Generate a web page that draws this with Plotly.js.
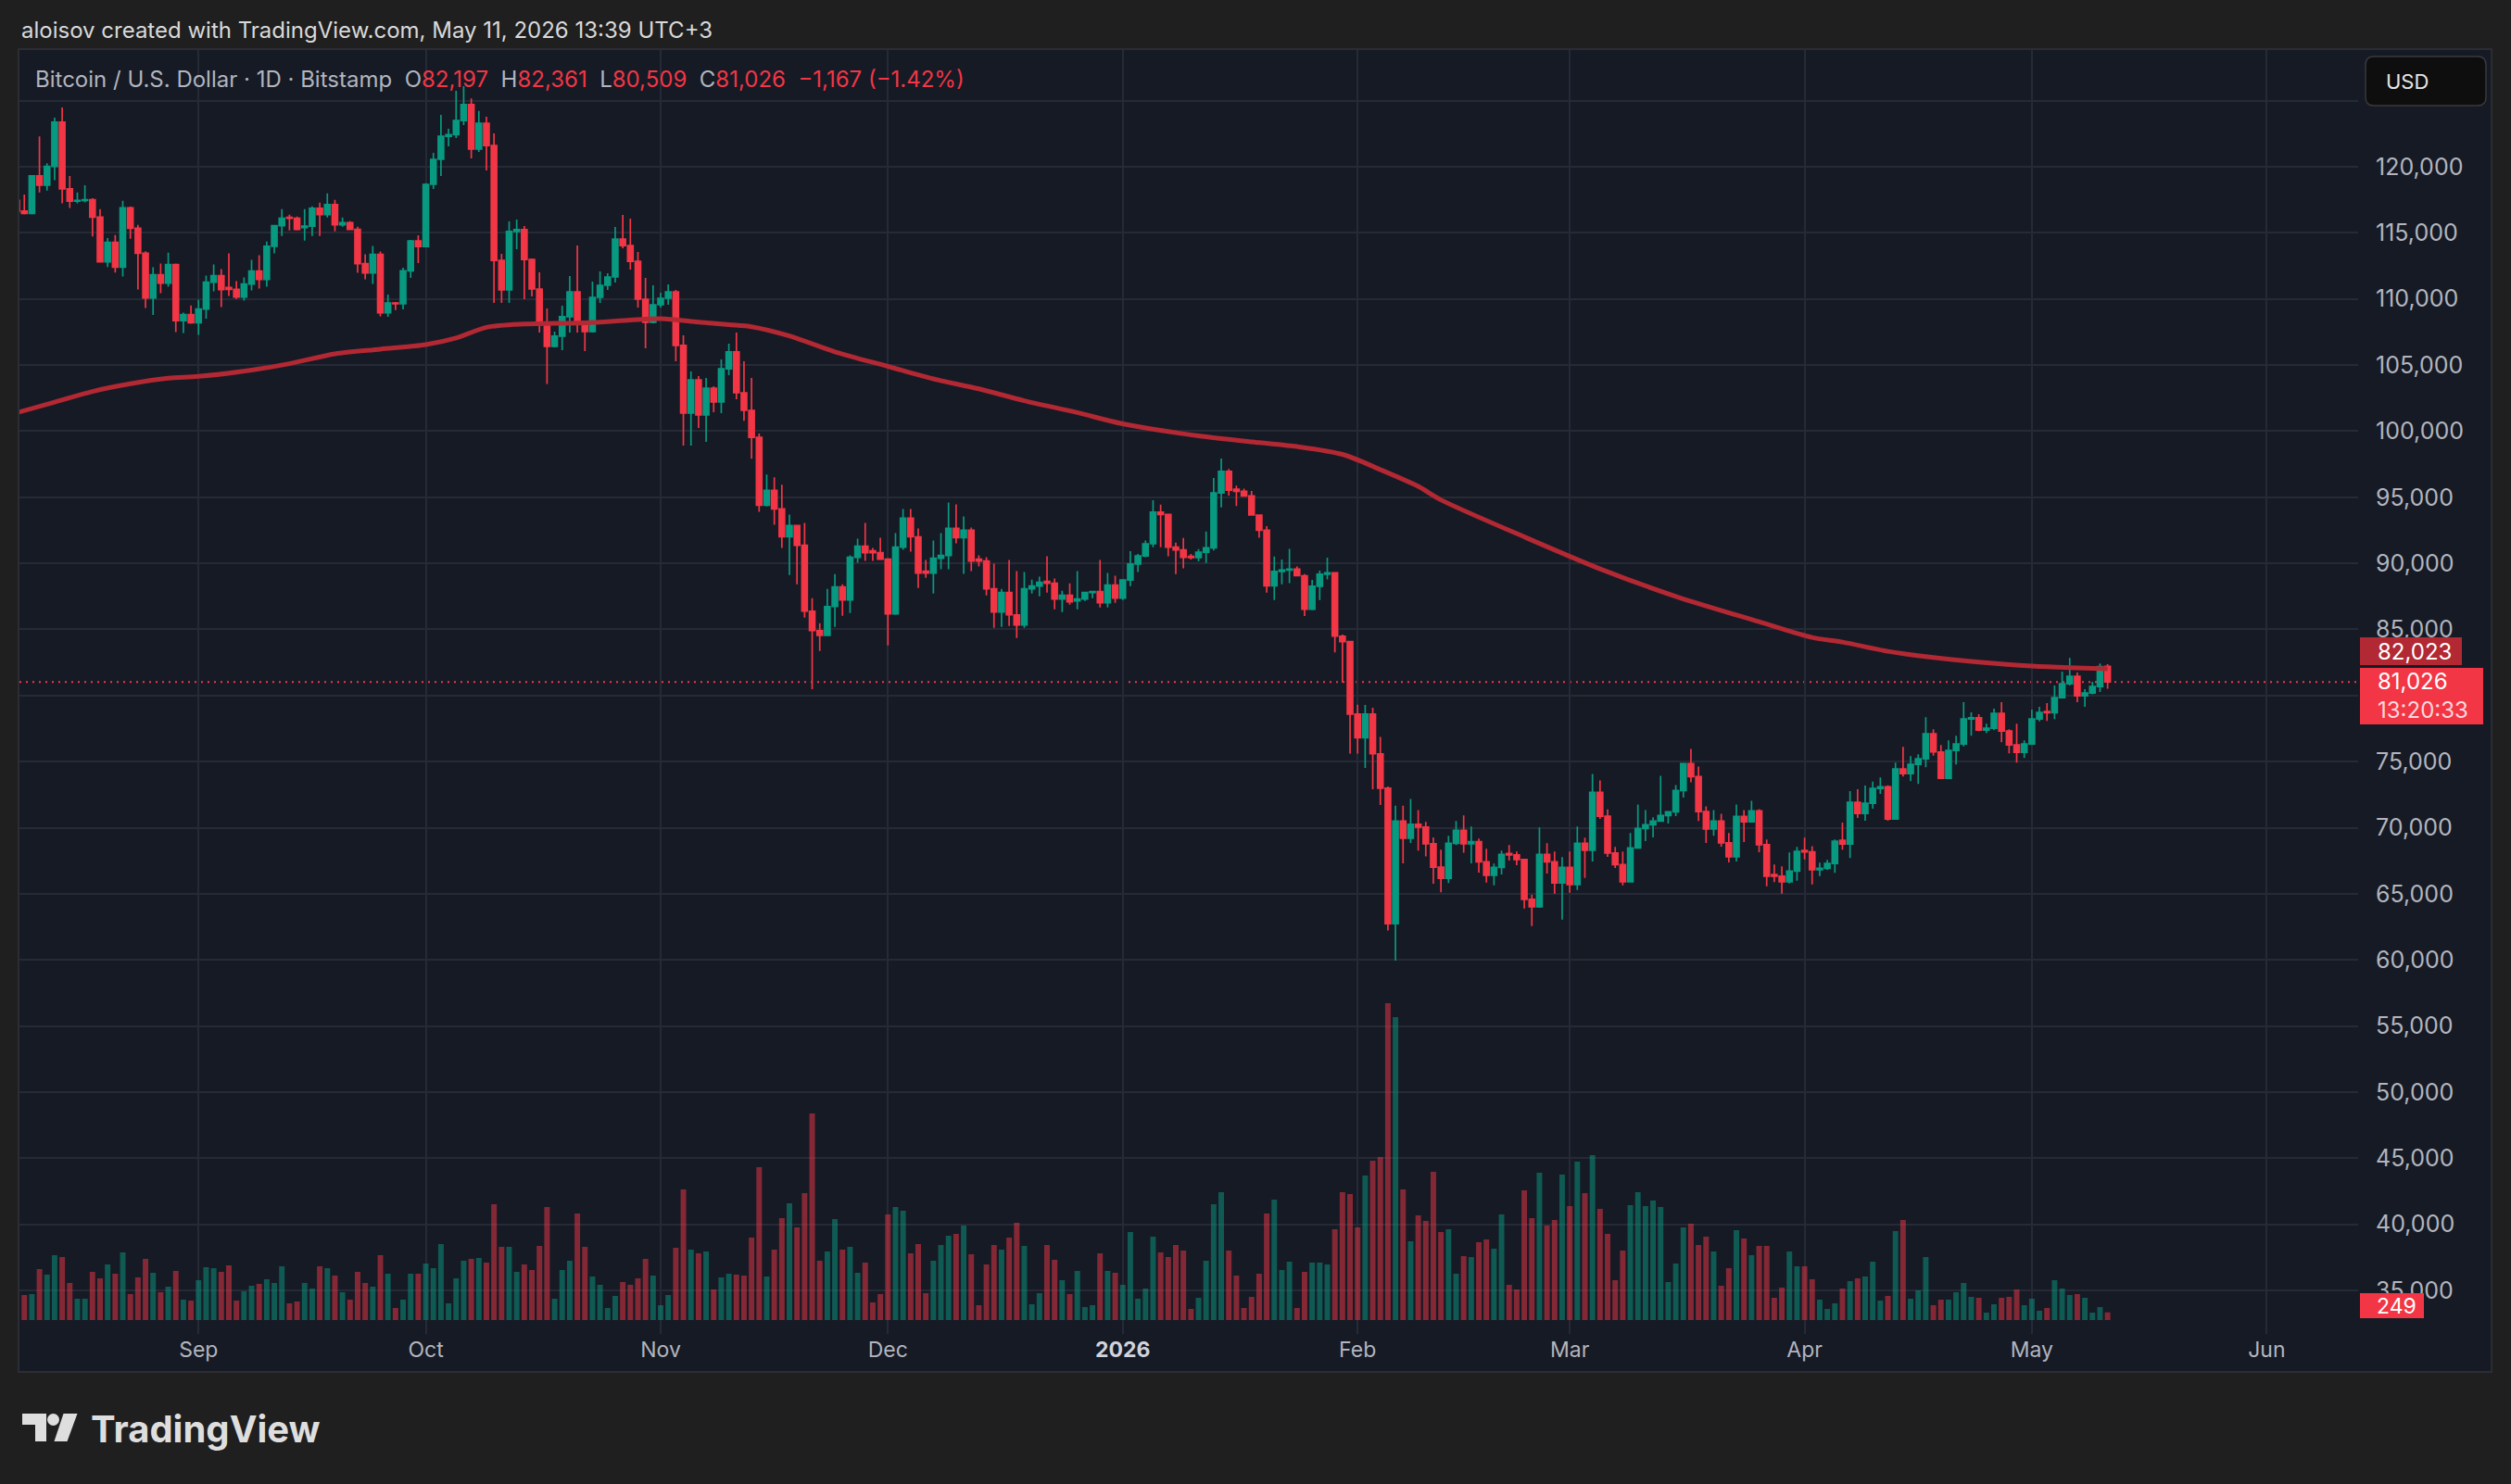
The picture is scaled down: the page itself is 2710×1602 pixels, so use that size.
<!DOCTYPE html>
<html><head><meta charset="utf-8">
<script src="https://cdn.plot.ly/plotly-3.0.1.min.js"></script>
<style>html,body{margin:0;padding:0;background:#1f1f1f;}#chart{width:2710px;height:1602px;}</style>
</head><body><div id="chart"></div>
<script>
// ---------------- DATA ----------------
const firstDay = '2025-08-08';   // one candle per day from here

const openPrices = [
 117450,116650,116470,119310,118600,120030,123370,118330,117400,117450,117500,116190,112810,114280,112410,116890,115350,113460,110080,111830,111200,112600,108360,108820,
 108200,109240,111270,111760,110860,110720,110150,111130,112110,111480,113980,115540,116170,116100,115400,115500,116860,116380,117140,115610,115770,115260,112670,111970,113370,108960,109700,109630,112130,114390,
 113970,118670,120560,122310,122430,123500,124700,121330,123290,121610,112920,110680,115100,115240,112990,110750,108090,106410,107180,108650,110540,108300,107530,110120,111030,111660,114530,114040,112850,109980,108230,
 109560,110050,110540,106480,101360,103880,101220,103250,102200,104720,105990,102900,101570,99530,94400,95520,94115,92005,92850,91370,86380,84910,84555,86730,88210,87226,90460,91300,90950,90810,
 90320,86170,91230,93410,92005,89405,89265,90390,90600,92640,91935,92500,90320,90180,88070,86310,87790,86100,85330,88070,88280,88630,88490,87295,87575,87150,87300,87790,87860,87015,88350,
 87365,88740,89950,90560,91480,93880,93700,91220,91020,90530,90430,90840,91170,95330,96960,95600,95450,95100,93650,92500,88290,89390,89490,89570,89060,86530,88270,89180,89290,84490,84080,
 78600,76810,78600,75590,72990,62730,70510,69210,70260,70050,68780,67010,66170,68820,69800,68780,68940,67420,66400,67000,68050,67940,67590,64580,64020,67980,67420,65820,
 67000,65700,68820,68290,72670,70870,68080,67210,65910,68470,69940,70220,70500,70920,71200,72810,74840,73860,71220,69900,70500,68850,67800,70850,70450,71270,68710,66450,66330,65910,66720,
 68270,68170,66820,66920,67290,69040,68760,71920,71080,71850,72970,73100,70660,74440,74090,74790,75210,77100,75730,73740,75840,76330,78220,78310,77380,77520,78650,77310,76260,75700,
 76330,78220,78780,78700,79840,80890,81450,79980,80190,80680,82197
];
const highPrices = [
 117800,117900,119350,122300,120270,123720,124490,119300,118050,118600,117620,116800,114600,114840,117420,116980,115600,113600,112390,112670,113500,112670,108960,109500,
 109940,111760,112600,112250,113440,111340,111620,112950,113300,114350,115600,116800,116380,116240,116800,117000,117280,117980,117490,116170,115890,115470,113370,114000,113580,110330,109770,112360,114460,114820,
 118750,121050,123930,122870,125750,126100,125160,124230,123780,122520,113410,115870,116000,115520,113060,112010,109280,107530,109490,111730,114040,108350,111310,112080,111940,115450,116360,116080,113550,111590,111030,
 110470,111100,110680,107250,104510,104160,104020,103400,105420,106620,107460,105290,104030,99810,96715,96500,95940,93690,92920,93060,87370,85470,88070,89190,88420,90600,91865,93060,91160,91935,
 90390,92290,94115,94115,92640,90250,91725,92290,94605,94465,93550,92710,90600,90460,89970,88070,90250,89405,89335,88770,88985,90530,88845,87930,88490,89405,87860,87930,90250,89265,89055,
 88770,90920,90710,91730,94770,94440,93750,91560,91910,90710,91070,92400,96450,97930,97140,95870,95640,95480,93700,92810,90510,90280,91100,89770,89180,88750,89440,90430,89340,84620,84100,
 79310,79280,79080,76860,73110,71660,71660,72170,71330,70430,69270,68330,69380,70500,70920,70080,69170,68400,67280,68260,68680,68190,67650,64930,70010,68820,68190,67770,
 68190,70080,69240,74070,73580,71390,68540,68190,69590,71760,71340,70780,73930,71270,73230,74910,75960,74630,71620,71340,71060,69590,71760,71340,72040,71410,69100,67210,67070,68120,68540,
 69250,68600,67360,67570,69110,70380,72760,72900,73180,73480,73800,73200,74930,76120,75420,75560,78365,77450,76260,76610,76960,79490,78720,78580,77870,79000,79490,77450,77870,76610,
 78930,79140,79420,80750,81800,82850,81730,80470,81030,82430,82361
];
const lowPrices = [
 116500,116400,116400,118050,118200,118990,117240,116890,117240,117300,114720,112740,112410,111990,111690,114560,110710,109310,108780,110430,110920,107490,107420,108120,
 107280,108500,110570,109380,110220,110000,109870,110640,110780,110920,113440,114770,115190,115190,114420,114770,114770,116170,115120,115470,115200,111970,111480,111130,108680,108650,109160,109210,111590,112710,
 113900,118320,119300,121540,122170,123150,120630,121120,119720,109700,109700,109700,113760,109980,110190,107460,103560,106340,106130,107460,107460,106060,107460,109700,110680,111240,113830,112220,109350,106270,108150,
 109350,109560,105280,98910,98910,100240,99190,101430,101360,104230,102410,100790,97910,93900,94300,92920,91160,89120,88420,85890,80480,83360,84500,85190,86030,86240,90040,90180,90180,90250,
 83780,86100,91020,90880,88140,88910,87720,89545,89545,91510,89195,89405,89755,87580,85120,85190,85260,84345,85120,87720,87505,87790,86525,86310,86875,86523,87150,87366,86665,86665,87015,
 87225,88270,89340,90460,91220,91220,90540,89180,89620,90280,90150,90030,90970,94230,95130,94340,95050,93600,91940,87780,87220,88420,88500,89000,86020,86450,87220,88780,83270,80990,75610,
 75610,74520,72910,71710,62220,59950,67300,68850,68270,67830,65760,65120,65820,68680,68100,67300,66610,65840,65630,66470,67520,67170,63880,62550,63930,66540,65000,63040,
 65070,65280,66190,67450,70660,67800,66960,65630,65840,68430,68990,69270,70450,70310,70870,72270,73440,70500,68850,69380,68570,67380,67450,68920,70380,68150,65560,65890,65000,65770,65980,
 67600,65700,66330,66800,66590,68340,67710,70730,70520,71430,72550,70520,70590,73880,73530,73320,74580,75440,73700,73700,74790,76150,76960,77310,77170,77380,76470,75630,74930,75280,
 76260,78040,78080,78220,79770,80750,79490,79140,80100,80260,80509
];
const closePrices = [
 116650,116470,119310,118600,120030,123370,118330,117400,117450,117500,116190,112810,114280,112410,116890,115350,113460,110080,111830,111200,112600,108360,108820,108200,
 109240,111270,111760,110710,110720,110150,111130,112110,111480,113980,115540,116100,116100,115260,115500,116860,116380,117140,115610,115770,115260,112670,111970,113370,108960,109700,109630,112130,114390,113970,
 118670,120560,122310,122430,123500,124700,121330,123290,121610,112920,110680,115100,115240,112990,110750,108090,106410,107180,108650,110540,108300,107530,110120,111030,111660,114530,114040,112850,109980,108230,109560,
 110050,110540,106480,101360,103880,101220,103250,102200,104720,105990,102900,101570,99530,94400,95520,94115,92005,92850,91370,86380,84910,84555,86730,88210,87226,90460,91300,90810,90810,90320,
 86170,91230,93410,92005,89265,89265,90390,90600,92640,91935,92500,90180,90180,88070,86310,87790,86100,85330,88070,88280,88560,88490,87295,87575,87085,87296,87790,87860,87015,88350,87365,
 88740,89950,90560,91480,93880,93700,91220,91020,90460,90430,90840,91170,95330,96960,95540,95450,95100,93650,92500,88290,89390,89490,89570,89060,86530,88270,89180,89290,84490,84080,78600,
 76810,78600,75590,72990,62730,70510,69210,70260,70050,68780,67010,66170,68820,69800,68780,68940,67420,66400,67000,67980,67940,67590,64580,64020,67980,67420,65820,67000,
 65700,68820,68290,72670,70870,68080,67210,65910,68470,69940,70220,70500,70920,71200,72810,74840,73860,71220,69900,70500,68850,67800,70850,70450,71270,68710,66330,66330,65910,66720,68200,
 68170,66820,66920,67290,68970,68760,71920,71080,71850,72970,73100,70660,74440,74090,74790,75210,77100,75730,73740,75840,76330,78220,78310,77380,77520,78650,77310,76260,75700,76330,
 78220,78720,78700,79840,80890,81450,79980,80190,80680,82193,81026
];
const volumes = [
 1290,810,840,1650,1470,2100,2040,1200,690,690,1560,1350,1800,1500,2190,840,1380,1980,1530,900,1080,1590,660,630,
 1290,1710,1680,1560,1770,630,930,1110,1170,1320,1200,1740,540,600,1200,1020,1740,1680,1440,900,660,1560,1200,1080,2100,1500,390,660,1500,1500,
 1830,1680,2460,540,1350,1920,1980,2010,1860,3750,2370,2370,1560,1800,1620,2400,3660,690,1620,1920,3450,2370,1410,1140,390,780,1230,1140,1350,1980,1440,
 480,810,2340,4230,2280,2160,2220,990,1380,1500,1470,1440,2670,4950,1410,2280,3300,3780,3000,4110,6690,1920,2220,3270,2280,2370,1530,1860,570,840,
 3420,3660,3540,2160,2460,870,1920,2430,2730,2790,3060,2130,480,1800,2430,2280,2670,3150,2400,510,870,2430,1950,1290,840,1590,420,480,2160,1590,1530,
 1140,2850,690,1020,2700,2190,2040,2430,2250,360,720,1920,3750,4140,2250,1440,390,750,1500,3450,3900,1620,1890,390,1560,1860,1860,1800,2940,4140,4080,
 3000,4680,5160,5280,10260,9810,4230,2550,3390,3210,4800,2850,2940,1500,2070,2040,2520,2610,2310,3420,1140,990,4200,3300,4770,3060,3240,4710,
 3690,5130,4110,5340,3600,2790,1290,2250,3720,4140,3690,3870,3660,1230,1830,3000,3120,2430,2700,2220,1110,1680,2910,2640,2100,2400,2400,720,1050,2220,1740,
 1740,1320,660,360,540,1020,1260,1350,1410,1890,630,780,2880,3240,690,960,2040,480,660,660,900,1200,750,720,240,510,720,750,990,480,
 690,300,390,1290,1020,810,840,720,240,420,249
];
// 200-day moving average, read at points along the drawn line
const maDates = ['2025-08-08','2025-08-13','2025-08-18','2025-08-23','2025-08-28','2025-09-01','2025-09-08','2025-09-13','2025-09-19','2025-09-25',
 '2025-10-01','2025-10-05','2025-10-09','2025-10-14','2025-10-22','2025-10-28','2025-11-01','2025-11-06','2025-11-10','2025-11-13','2025-11-18','2025-11-24',
 '2025-12-01','2025-12-07','2025-12-13','2025-12-19','2025-12-26','2026-01-01','2026-01-11','2026-01-19','2026-01-24','2026-01-30','2026-02-04','2026-02-09',
 '2026-02-12','2026-02-23','2026-03-05','2026-03-15','2026-03-26','2026-04-02','2026-04-06','2026-04-12','2026-04-18','2026-04-24','2026-05-01','2026-05-06','2026-05-11'];
const maValues = [101390,102190,103000,103580,104000,104140,104620,105100,105850,106200,
 106550,107050,107850,108100,108200,108400,108500,108250,108050,107900,107200,106000,
 104900,103950,103200,102300,101400,100550,99640,99130,98830,98240,97090,95820,
 94800,92000,89580,87500,85580,84390,84040,83340,82870,82520,82220,82100,82023];

const monthTicks  = ['2025-09-01','2025-10-01','2025-11-01','2025-12-01','2026-01-01','2026-02-01','2026-03-01','2026-04-01','2026-05-01','2026-06-01'];
const monthLabels = ['Sep','Oct','Nov','Dec','2026','Feb','Mar','Apr','May','Jun'];
const priceTicks  = [35000,40000,45000,50000,55000,60000,65000,70000,75000,80000,85000,90000,95000,100000,105000,110000,115000,120000,125000];
// labels the reference hides behind its USD button and the last-price tag
const hiddenPriceTicks = [80000,125000];

const titleText = 'aloisov created with TradingView.com, May 11, 2026 13:39 UTC+3';
const symbolText = 'Bitcoin / U.S. Dollar · 1D · Bitstamp';
const countdownText = '13:20:33';
const currencyText = 'USD';
const brandText = 'TradingView';

// ---------------- BUILD ----------------
const days = openPrices.map((_, i) => {
  const p = firstDay.split('-').map(Number);
  return new Date(Date.UTC(p[0], p[1]-1, p[2]+i)).toISOString().slice(0,10);
});
const n = closePrices.length;
const fmt = v => Math.round(v).toLocaleString('en-US');
const MINUS = '\u2212';
const UP = '#089981', DOWN = '#f23645';
const volColors = closePrices.map((c,i) => c >= openPrices[i] ? 'rgba(8,153,129,0.5)' : 'rgba(242,54,69,0.5)');

// pixel helpers (page is 2710 x 1602)
const PL=21, PR=2545, PT=54, PB=1440;
const px = x => (x-PL)/(PR-PL);
const py = y => (PB-y)/(PB-PT);
const rectP = (x0,y0,x1,y1,fill,extra) => Object.assign({type:'rect',xref:'paper',yref:'paper',x0:px(x0),x1:px(x1),y0:py(y1),y1:py(y0),fillcolor:fill,line:{width:0},layer:'above'}, extra||{});
function roundRectPath(x0,y0,x1,y1,r){
  const P=(x,y)=>px(x)+','+py(y);
  return 'M'+P(x0+r,y0)+' L'+P(x1-r,y0)+' Q'+P(x1,y0)+' '+P(x1,y0+r)+' L'+P(x1,y1-r)+' Q'+P(x1,y1)+' '+P(x1-r,y1)+
         ' L'+P(x0+r,y1)+' Q'+P(x0,y1)+' '+P(x0,y1-r)+' L'+P(x0,y0+r)+' Q'+P(x0,y0)+' '+P(x0+r,y0)+' Z';
}
const polyPath = pts => 'M' + pts.map(p => px(p[0])+','+py(p[1])).join(' L') + ' Z';

const lastO = openPrices[n-1], lastH = highPrices[n-1], lastL = lowPrices[n-1], lastC = closePrices[n-1], prevC = closePrices[n-2];
const chg = lastC - prevC, pct = chg / prevC * 100;
const sgn = v => (v < 0 ? MINUS : '+');
const G = s => '<span style="color:#b2b5be">'+s+'</span>';
const Rd = s => '<span style="color:'+(chg<0?DOWN:UP)+'">'+s+'</span>';
const NB = '\u00a0';
const legendText = G(symbolText + NB+NB + 'O') + Rd(fmt(lastO)) + G(NB+NB+'H') + Rd(fmt(lastH)) + G(NB+NB+'L') + Rd(fmt(lastL)) +
  G(NB+NB+'C') + Rd(fmt(lastC)) + Rd(NB+NB + sgn(chg) + fmt(Math.abs(chg)) + ' (' + sgn(chg) + Math.abs(pct).toFixed(2) + '%)');

const traces = [
  {type:'bar', x:days, y:volumes, xaxis:'x', yaxis:'y2', marker:{color:volColors, line:{width:0}}, hoverinfo:'skip', showlegend:false},
  {type:'candlestick', x:days, open:openPrices, high:highPrices, low:lowPrices, close:closePrices, xaxis:'x', yaxis:'y',
   increasing:{line:{color:UP,width:1.7}, fillcolor:UP}, decreasing:{line:{color:DOWN,width:1.7}, fillcolor:DOWN},
   whiskerwidth:0, hoverinfo:'skip', showlegend:false},
  {type:'scatter', mode:'lines', x:maDates, y:maValues, xaxis:'x', yaxis:'y', line:{color:'#b22833', width:5, shape:'spline', smoothing:0.8}, hoverinfo:'skip', showlegend:false}
];

const gridC = '#262a36';
const layout = {
  width:2710, height:1602,
  paper_bgcolor:'#1f1f1f', plot_bgcolor:'#161a25',
  margin:{l:PL, r:2710-PR, t:PT, b:1602-PB, pad:0},
  font:{family:'Inter, Roboto, sans-serif', size:23, color:'#b2b5be'},
  showlegend:false,
  boxgap:0.28, boxgroupgap:0, bargap:0.27,
  xaxis:{type:'date', range:['2025-08-08 08:38','2026-06-13 01:40'], tickmode:'array', tickvals:monthTicks,
         ticktext:monthLabels.map(t => /^\d{4}$/.test(t) ? '<span style="color:#d1d4dc"><b>'+t+'</b></span>' : t),
         showgrid:true, gridcolor:gridC, gridwidth:2, zeroline:false, showline:false, ticks:'', ticklabelstandoff:1,
         tickfont:{size:23, color:'#b2b5be'}, rangeslider:{visible:false}, fixedrange:true},
  yaxis:{range:[31703,128830], side:'right', tickmode:'array', tickvals:priceTicks,
         ticktext:priceTicks.map(v => hiddenPriceTicks.includes(v) ? '' : fmt(v)),
         showgrid:true, gridcolor:gridC, gridwidth:2, zeroline:false, showline:false, ticks:'', ticklabelstandoff:18,
         tickfont:{size:25, color:'#b2b5be'}, fixedrange:true},
  yaxis2:{overlaying:'y', range:[-450,41130], visible:false, showgrid:false, zeroline:false, fixedrange:true},
  shapes:[
    {type:'rect', xref:'paper', yref:'paper', x0:px(20), x1:px(2689), y0:py(1481), y1:py(53), fillcolor:'#161a25', line:{color:'#2c2d33', width:2}, layer:'below'},
    {type:'line', xref:'paper', yref:'y', x0:0, x1:1, y0:lastC, y1:lastC, line:{color:DOWN, width:2, dash:'2px,5px'}, layer:'below'},
    {type:'path', xref:'paper', yref:'paper', path:roundRectPath(2553,61,2683,114,9), fillcolor:'#0e0e0e', line:{color:'#3a3a3e', width:1.5}, layer:'above'},
    rectP(2547,688,2657,718,'#b22833'),
    rectP(2547,721,2680,782,DOWN),
    rectP(2547,1396,2616,1423,DOWN),
    // TradingView logo mark
    rectP(24,1526,50,1538,'#dedede'),
    rectP(38,1526,50,1556,'#dedede'),
    {type:'circle', xref:'paper', yref:'paper', x0:px(51), x1:px(64), y0:py(1539), y1:py(1526), fillcolor:'#dedede', line:{width:0}, layer:'above'},
    {type:'path', xref:'paper', yref:'paper', path:polyPath([[68.5,1526],[83.5,1526],[72.5,1556],[58.5,1556]]), fillcolor:'#dedede', line:{width:0}, layer:'above'}
  ],
  annotations:[
    {xref:'paper', yref:'paper', x:px(21), y:py(32), xanchor:'left', yanchor:'middle', showarrow:false, text:titleText, font:{size:24, color:'#d9d9d9'}},
    {xref:'paper', yref:'paper', x:px(36), y:py(85), xanchor:'left', yanchor:'middle', showarrow:false, text:legendText, font:{size:24}},
    {xref:'paper', yref:'paper', x:px(2573), y:py(88), xanchor:'left', yanchor:'middle', showarrow:false, text:currencyText, font:{size:22, color:'#e6e6e6'}},
    {xref:'paper', yref:'paper', x:px(2564), y:py(703), xanchor:'left', yanchor:'middle', showarrow:false, text:fmt(maValues[maValues.length-1]), font:{size:24, color:'#ffffff'}},
    {xref:'paper', yref:'paper', x:px(2564), y:py(751), xanchor:'left', yanchor:'middle', align:'left', showarrow:false,
     text:fmt(lastC)+'<br><span style="color:#fcd9dc">'+countdownText+'</span>', font:{size:24, color:'#ffffff'}},
    {xref:'paper', yref:'paper', x:px(2563), y:py(1410), xanchor:'left', yanchor:'middle', showarrow:false, text:fmt(volumes[n-1]), font:{size:23, color:'#ffffff'}},
    {xref:'paper', yref:'paper', x:px(96), y:py(1542), xanchor:'left', yanchor:'middle', showarrow:false, text:'<b>'+brandText+'</b>', font:{size:40, color:'#dedede'}}
  ]
};

Plotly.newPlot('chart', traces, layout, {displayModeBar:false, staticPlot:true});
</script>
</body></html>
